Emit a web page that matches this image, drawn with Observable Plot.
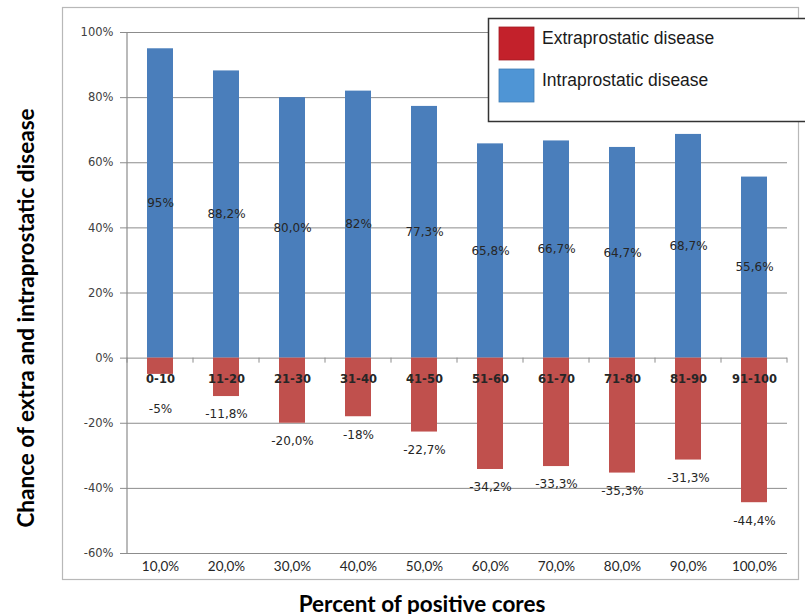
<!DOCTYPE html>
<html>
<head>
<meta charset="utf-8">
<script src="https://cdn.jsdelivr.net/npm/d3@7"></script>
<script src="https://cdn.jsdelivr.net/npm/@observablehq/plot@0.6"></script>
<style>
  body { margin: 0; background: #fff; }
  #chart svg { display: block; }
</style>
</head>
<body>
<div id="chart"></div>
<script>
// Percent of positive biopsy cores, grouped in deciles
const ranges = ["0-10", "11-20", "21-30", "31-40", "41-50", "51-60", "61-70", "71-80", "81-90", "91-100"];
const coreLabels = ["10,0%", "20,0%", "30,0%", "40,0%", "50,0%", "60,0%", "70,0%", "80,0%", "90,0%", "100,0%"];

// Chance of intraprostatic (positive) and extraprostatic (negative) disease, in %
const intraValues = [95, 88.2, 80.0, 82, 77.3, 65.8, 66.7, 64.7, 68.7, 55.6];
const intraDecimals = [0, 1, 1, 0, 1, 1, 1, 1, 1, 1];
const extraValues = [-5, -11.8, -20.0, -18, -22.7, -34.2, -33.3, -35.3, -31.3, -44.4];
const extraDecimals = [0, 1, 1, 0, 1, 1, 1, 1, 1, 1];

const yTicks = [-60, -40, -20, 0, 20, 40, 60, 80, 100];
const seriesNames = ["Extraprostatic disease", "Intraprostatic disease"];
const barColors = ["#c0504d", "#4a7ebb"];
const legendColors = ["#c3212b", "#4f95d5"];

const pct = (v, dec) => v.toFixed(dec).replace(".", ",") + "%";

const intraRows = ranges.map((r, i) => ({range: r, series: seriesNames[1], value: intraValues[i], label: pct(intraValues[i], intraDecimals[i])}));
const extraRows = ranges.map((r, i) => ({range: r, series: seriesNames[0], value: extraValues[i], label: pct(extraValues[i], extraDecimals[i])}));
const rows = [...intraRows, ...extraRows];

const gridColor = "#8c8c8c";

const plot = Plot.plot({
  width: 805,
  height: 614,
  marginLeft: 127,
  marginRight: 18,
  marginTop: 32,
  marginBottom: 61,
  style: {fontFamily: "DejaVu Sans", fontSize: "11px", color: "#404040", background: "#fff"},
  x: {domain: ranges, paddingInner: 0.6, paddingOuter: 0.3, axis: null},
  y: {domain: [-60, 100], axis: null},
  color: {domain: seriesNames, range: barColors},
  marks: [
    Plot.ruleY(yTicks.filter(t => t > -60), {stroke: gridColor, strokeWidth: 1}),
    Plot.barY(rows, {x: "range", y: "value", fill: "series"}),
    Plot.ruleY([-60], {stroke: gridColor, strokeWidth: 1.2}),
    Plot.axisY({
      ticks: yTicks, tickFormat: d => d + "%", tickSize: 7, tickPadding: 7,
      stroke: gridColor, fill: "#404040", fontSize: 11.5, label: null
    }),
    Plot.axisX({
      tickFormat: d => coreLabels[ranges.indexOf(d)], tickSize: 0, tickPadding: 8,
      fontFamily: "Lato", fontSize: 13.5, fill: "#262626", label: null
    }),
    // value labels inside the intraprostatic bars
    Plot.text(intraRows, {x: "range", y: d => d.value / 2, text: "label", fill: "#262626", fontSize: 12}),
    // value labels below the extraprostatic bars
    Plot.text(extraRows, {x: "range", y: d => Math.min(d.value, -10), dy: 18, text: "label", fill: "#262626", fontSize: 12}),
    // decile labels just under the zero line
    Plot.text(ranges, {x: d => d, y: 0, dy: 21, text: d => d, fill: "#262626", fontSize: 11.5, fontWeight: "bold"})
  ]
});

document.getElementById("chart").appendChild(plot);

const svg = d3.select(plot);
const xs = plot.scale("x");
const ys = plot.scale("y");
const y0 = ys.apply(0);
const yTop = ys.apply(100);
const yBot = ys.apply(-60);
const xLeft = xs.range[0];

// outer chart border
svg.insert("rect", ":first-child")
  .attr("x", 62.5).attr("y", 7.5).attr("width", 736).attr("height", 572)
  .attr("fill", "none").attr("stroke", "#b8b8b8").attr("stroke-width", 1.2);

// vertical value axis line
svg.append("line")
  .attr("x1", xLeft).attr("x2", xLeft).attr("y1", yTop).attr("y2", yBot)
  .attr("stroke", gridColor).attr("stroke-width", 1.2);

// category tick marks on the zero line, between the bars
const half = (xs.step - xs.bandwidth) / 2;
const bounds = ranges.map(r => xs.apply(r) - half).concat([xs.apply(ranges[ranges.length - 1]) + xs.bandwidth + half]);
svg.append("g").selectAll("line").data(bounds).join("line")
  .attr("x1", d => d).attr("x2", d => d).attr("y1", y0).attr("y2", y0 + 5)
  .attr("stroke", gridColor).attr("stroke-width", 1);

// axis titles
svg.append("text")
  .attr("transform", "translate(25,318) rotate(-90)")
  .attr("text-anchor", "middle").attr("dominant-baseline", "central")
  .style("font-family", "Lato").style("font-weight", "bold").style("font-size", "22.5px").attr("fill", "#000")
  .text("Chance of extra and intraprostatic disease");
svg.append("text")
  .attr("x", 422).attr("y", 603)
  .attr("text-anchor", "middle").attr("dominant-baseline", "central")
  .style("font-family", "Lato").style("font-weight", "bold").style("font-size", "22.5px").attr("fill", "#000")
  .text("Percent of positive cores");

// legend
const lg = svg.append("g");
lg.append("rect")
  .attr("x", 488.5).attr("y", 18.5).attr("width", 330).attr("height", 103)
  .attr("fill", "#fff").attr("stroke", "#333").attr("stroke-width", 1.5);
const items = lg.selectAll("g.item").data(seriesNames).join("g")
  .attr("transform", (d, i) => `translate(499,${27 + i * 42})`);
items.append("rect")
  .attr("width", 35).attr("height", 33)
  .attr("fill", (d, i) => legendColors[i])
  .attr("stroke", (d, i) => d3.color(legendColors[i]).darker(0.5)).attr("stroke-width", 0.8);
items.append("text")
  .attr("x", 43).attr("y", 17)
  .attr("text-anchor", "start")
  .style("font-family", "Liberation Sans").style("font-size", "17.5px").attr("fill", "#1a1a1a")
  .text(d => d);
</script>
</body>
</html>
